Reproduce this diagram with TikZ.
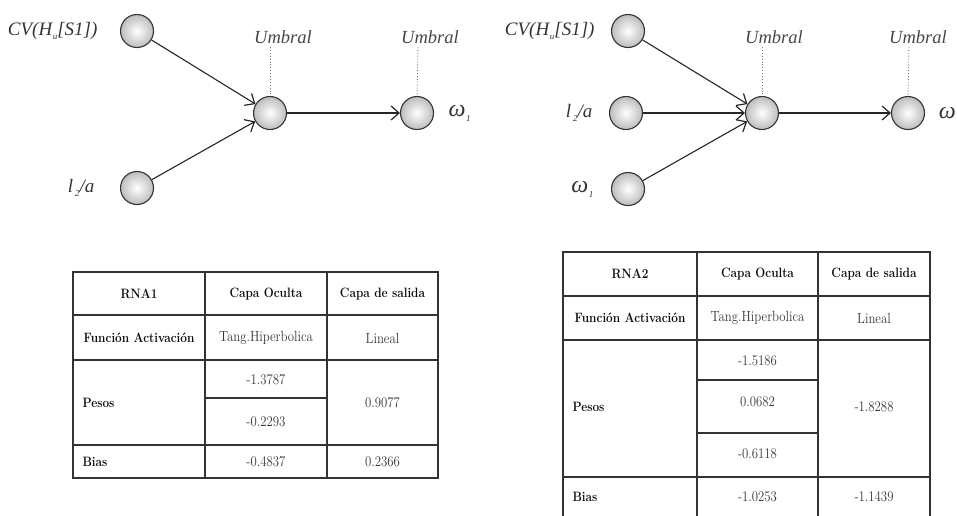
\documentclass[tikz,border=0pt]{standalone}
\usepackage{fontspec}
\usepackage{graphicx}
\newfontfamily\labfont{Liberation Serif}
\usetikzlibrary{arrows.meta}
\newcommand\labsub[2][0.6pt]{\kern#1\raisebox{-0.45ex}{\fontsize{9}{9}\selectfont #2}}
\newcommand\tallbox[1]{\scalebox{1}[1.15]{#1}}

\tikzset{
  neuron/.style={circle, draw=black!80, line width=1.1pt, minimum size=33pt,
    inner sep=0pt, inner color=white, outer color=black!26},
  link/.style={draw=black!85, line width=1.1pt,
    -{Straight Barb[length=8pt,width=14pt,line width=1.2pt]}},
  thr/.style={draw=black!55, dotted, line width=0.9pt},
  lbl/.style={font=\labfont\itshape\fontsize{19}{22}\selectfont, text=black!80},
  omg/.style={font=\labfont\itshape\fontsize{24}{26}\selectfont, text=black!80},
  umb/.style={font=\labfont\itshape\fontsize{18.5}{22}\selectfont, text=black!72},
  grid/.style={draw=black!80, line width=1.2pt},
  hd/.style={font=\bfseries\fontsize{11.8}{14}\selectfont, text=black!95},
  val/.style={font=\fontsize{12.8}{15}\selectfont, text=black!78},
}

\begin{document}
\begin{tikzpicture}[x=1pt, y=-1pt]
\useasboundingbox (0,0) rectangle (957,515);
\clip (0,0) rectangle (957,515);
\fill[white] (0,0) rectangle (957,515);

% ---------- network RNA1 ----------
\node[neuron] (a1) at (137,31) {};
\node[neuron] (a2) at (137,188) {};
\node[neuron] (ah) at (270,113) {};
\node[neuron] (ao) at (417,113) {};
\draw[link] (a1) -- (ah);
\draw[link] (a2) -- (ah);
\draw[link] (ah) -- (ao);
\node[umb] (au1) at (283,37) {Umbral};
\node[umb] (au2) at (430,37) {Umbral};
\draw[thr] (270,47) -- (ah.north);
\draw[thr] (418,47) -- (ao.north);
\node[lbl, anchor=east] (al1) at (101,31) {CV(H\labsub{u}[S1])};
\node[lbl, anchor=east] (al2) at (98,188) {l\labsub[2pt]{2}/a};
\node[omg, anchor=west] (alo) at (445,113) {ω\labsub{1}};

% ---------- network RNA2 ----------
\node[neuron] (b1) at (628,31) {};
\node[neuron] (b2) at (626,113) {};
\node[neuron] (b3) at (628,189) {};
\node[neuron] (bh) at (762,113) {};
\node[neuron] (bo) at (908,113) {};
\draw[link] (b1) -- (bh);
\draw[link] (b2) -- (bh);
\draw[link] (b3) -- (bh);
\draw[link] (bh) -- (bo);
\node[umb] (bu1) at (774,37) {Umbral};
\node[umb] (bu2) at (918,37) {Umbral};
\draw[thr] (762,47) -- (bh.north);
\draw[thr] (909,47) -- (bo.north);
\node[lbl, anchor=east] (bl1) at (598,31) {CV(H\labsub{u}[S1])};
\node[lbl, anchor=east] (bl2) at (596,113) {l\labsub[2pt]{2}/a};
\node[omg, anchor=east] (bl3) at (597,189) {ω\labsub{1}};
\node[omg, anchor=east, inner xsep=0pt] (blo) at (956,113) {ω};

% ---------- table RNA1 ----------
\draw[grid] (73,272) rectangle (438,478);
\draw[grid] (205,272) -- (205,478);
\draw[grid] (327,272) -- (327,478);
\draw[grid] (73,315) -- (438,315);
\draw[grid] (73,360) -- (438,360);
\draw[grid] (205,398) -- (327,398);
\draw[grid] (73,445) -- (438,445);
\node[hd] (t1a) at (139,294) {\tallbox{RNA1}};
\node[hd] (t1b) at (266,294) {\tallbox{Capa Oculta}};
\node[hd] (t1c) at (382.5,294) {\tallbox{Capa de salida}};
\node[hd] (t1d) at (139,338) {\tallbox{Función Activación}};
\node[val] (t1e) at (266,338) {\tallbox{Tang.Hiperbolica}};
\node[val] (t1f) at (382.5,338) {\tallbox{Lineal}};
\node[hd, anchor=west] (t1g) at (79,403) {\tallbox{Pesos}};
\node[val] (t1h) at (266,380) {\tallbox{-1.3787}};
\node[val] (t1i) at (266,422) {\tallbox{-0.2293}};
\node[val] (t1j) at (382.5,403) {\tallbox{0.9077}};
\node[hd, anchor=west] (t1k) at (79,462) {\tallbox{Bias}};
\node[val] (t1l) at (266,462) {\tallbox{-0.4837}};
\node[val] (t1m) at (382.5,462) {\tallbox{0.2366}};

% ---------- table RNA2 ----------
\draw[grid] (563,520) -- (563,252) -- (930,252) -- (930,520);
\draw[grid] (697,252) -- (697,520);
\draw[grid] (818,252) -- (818,520);
\draw[grid] (563,296) -- (930,296);
\draw[grid] (563,340) -- (930,340);
\draw[grid] (697,380) -- (818,380);
\draw[grid] (697,433) -- (818,433);
\draw[grid] (563,477) -- (930,477);
\node[hd] (t2a) at (630,274) {\tallbox{RNA2}};
\node[hd] (t2b) at (757.5,274) {\tallbox{Capa Oculta}};
\node[hd] (t2c) at (874,274) {\tallbox{Capa de salida}};
\node[hd] (t2d) at (630,318) {\tallbox{Función Activación}};
\node[val] (t2e) at (757.5,318) {\tallbox{Tang.Hiperbolica}};
\node[val] (t2f) at (874,318) {\tallbox{Lineal}};
\node[hd, anchor=west] (t2g) at (569,407) {\tallbox{Pesos}};
\node[val] (t2h) at (757.5,361) {\tallbox{-1.5186}};
\node[val] (t2i) at (757.5,402) {\tallbox{0.0682}};
\node[val] (t2j) at (757.5,454) {\tallbox{-0.6118}};
\node[val] (t2k) at (874,407) {\tallbox{-1.8288}};
\node[hd, anchor=west] (t2l) at (569,497) {\tallbox{Bias}};
\node[val] (t2m) at (757.5,497) {\tallbox{-1.0253}};
\node[val] (t2n) at (874,497) {\tallbox{-1.1439}};
\end{tikzpicture}
\end{document}
